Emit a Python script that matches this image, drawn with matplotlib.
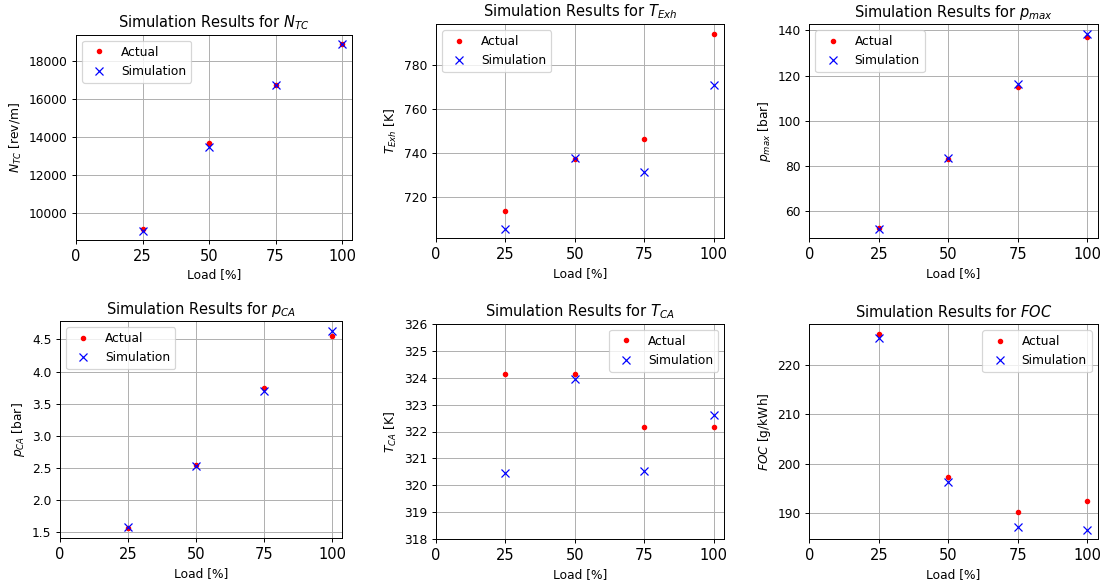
import matplotlib
matplotlib.use('Agg')
import matplotlib.pyplot as plt

load = [25, 50, 75, 100]

# measured vs simulated engine values at each load point
ntc_actual = [9150, 13680, 16750, 18900]
ntc_sim = [9050, 13480, 16740, 18880]

texh_actual = [713.3, 737.2, 746.2, 794.1]
texh_sim = [705.5, 737.5, 731.4, 770.9]

pmax_actual = [52.6, 83.0, 115.0, 137.0]
pmax_sim = [52.3, 83.5, 116.2, 138.4]

pca_actual = [1.55, 2.54, 3.75, 4.55]
pca_sim = [1.57, 2.52, 3.70, 4.63]

tca_actual = [324.15, 324.15, 322.15, 322.15]
tca_sim = [320.45, 323.93, 320.52, 322.60]

foc_actual = [226.2, 197.4, 190.3, 192.5]
foc_sim = [225.4, 196.4, 187.3, 186.7]

panels = [
    ('$N_{TC}$', '$N_{TC}$ [rev/m]', ntc_actual, ntc_sim, 'upper left'),
    ('$T_{Exh}$', '$T_{Exh}$ [K]', texh_actual, texh_sim, 'upper left'),
    ('$p_{max}$', '$p_{max}$ [bar]', pmax_actual, pmax_sim, 'upper left'),
    ('$p_{CA}$', '$p_{CA}$ [bar]', pca_actual, pca_sim, 'upper left'),
    ('$T_{CA}$', '$T_{CA}$ [K]', tca_actual, tca_sim, 'upper right'),
    ('$FOC$', '$FOC$ [g/kWh]', foc_actual, foc_sim, 'upper right'),
]

# axes boxes in pixels: left, top, right, bottom
W, H = 1106, 586
boxes = [
    (76, 34.7, 352, 240),
    (436, 24, 724.3, 238.3),
    (809.3, 24.3, 1097.7, 238.3),
    (60, 321.3, 342.3, 538.3),
    (436, 323.7, 724.3, 539.3),
    (809.3, 324.3, 1097.7, 539.3),
]

DPI = 88
fig = plt.figure(figsize=(W / DPI, H / DPI), dpi=DPI)
for (name, ylab, act, sim, loc), (l, t, r, b) in zip(panels, boxes):
    ax = fig.add_axes([l / W, 1 - b / H, (r - l) / W, (b - t) / H])
    ax.plot(load, act, 'r.', label='Actual', markersize=7)
    ax.plot(load, sim, 'bx', label='Simulation', markersize=7)
    ax.set_title('Simulation Results for ' + name, fontsize=12)
    ax.set_xlabel('Load [%]', fontsize=10)
    ax.set_ylabel(ylab, fontsize=10)
    ax.set_xlim(left=0)
    ax.set_xticks([0, 25, 50, 75, 100])
    if name == '$T_{CA}$':
        ax.set_ylim(318, 326)
        ax.set_yticks(range(318, 327))
    ax.tick_params(axis='x', labelsize=12)
    ax.tick_params(axis='y', labelsize=10)
    ax.grid()
    ax.legend(loc=loc, fontsize=10)

fig.savefig('out.png', dpi=DPI)
